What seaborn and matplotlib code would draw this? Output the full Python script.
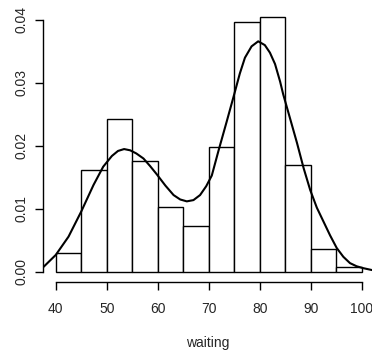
import matplotlib
matplotlib.use("Agg")
import matplotlib.pyplot as plt
import seaborn as sns
import numpy as np

sns.set_style("white")
plt.rcParams['font.family'] = ['Liberation Sans', 'DejaVu Sans']

# histogram of waiting times, bins of width 5
bin_edges = [40, 45, 50, 55, 60, 65, 70, 75, 80, 85, 90, 95, 100]
bin_mids = [42.5, 47.5, 52.5, 57.5, 62.5, 67.5, 72.5, 77.5, 82.5, 87.5, 92.5, 97.5]
bin_counts = [4, 22, 33, 24, 14, 10, 27, 54, 55, 23, 5, 1]

# fitted density curve
curve_x = [37.6, 40.0, 42.5, 45.0, 47.4, 49.3, 51.0, 52.2, 53.4, 54.6, 55.8, 57.2,
           58.5, 59.8, 61.5, 63.1, 64.4, 65.7, 67.0, 68.3, 69.5, 70.6, 71.9, 73.5,
           75.0, 76.1, 77.1, 78.4, 79.7, 81.0, 82.0, 83.0, 84.0, 84.6, 85.9, 87.3,
           88.6, 89.9, 91.2, 92.5, 93.8, 95.1, 96.4, 97.7, 99.0, 100.3, 102.0]
curve_y = [0.0008, 0.0027, 0.0056, 0.0096, 0.0138, 0.0167, 0.0184, 0.0192, 0.0195, 0.0193,
           0.0188, 0.0180, 0.0168, 0.0155, 0.0137, 0.0122, 0.0115, 0.0112, 0.0114, 0.0122,
           0.0136, 0.0153, 0.0192, 0.0238, 0.0282, 0.0315, 0.0340, 0.0358, 0.0366, 0.0360,
           0.0348, 0.0330, 0.0302, 0.0282, 0.0245, 0.0205, 0.0165, 0.0130, 0.0102, 0.0080,
           0.0058, 0.0038, 0.0024, 0.0014, 0.0009, 0.0006, 0.0003]

fig = plt.figure(figsize=(3.72, 3.55), dpi=100)
ax = fig.add_axes([0.115, 0.2056, 0.885, 0.7774])

sns.histplot(x=bin_mids, weights=bin_counts, bins=bin_edges, stat="density",
             color="white", edgecolor="black", linewidth=1.0, alpha=1, ax=ax)
sns.lineplot(x=curve_x, y=curve_y, color="black", linewidth=1.5, ax=ax)

ax.set_xlim(37.45, 102.02)
ax.set_ylim(-0.0016, 0.0422)
ax.set_xticks([40, 50, 60, 70, 80, 90, 100])
ax.set_yticks([0.00, 0.01, 0.02, 0.03, 0.04])
ax.set_yticklabels(["0.00", "0.01", "0.02", "0.03", "0.04"], rotation=90, va="center")
ax.tick_params(axis="both", direction="out", length=5.5, width=1.0, color="black",
               labelsize=10, pad=5, left=True, bottom=True)
ax.tick_params(axis="x", pad=9)

for s in ["top", "right"]:
    ax.spines[s].set_visible(False)
ax.spines["left"].set_bounds(0, 0.04)
ax.spines["bottom"].set_bounds(40, 100)
for s in ["left", "bottom"]:
    ax.spines[s].set_color("black")
    ax.spines[s].set_linewidth(1.0)

ax.set_xlabel("waiting", fontsize=10, labelpad=14)
ax.set_ylabel("")
ax.grid(False)

fig.savefig("out.png", dpi=100)
